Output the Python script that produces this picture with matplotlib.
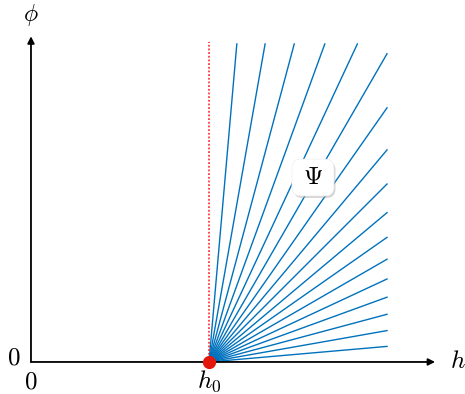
import numpy as np
import matplotlib.pyplot as plt
from matplotlib import transforms
from matplotlib.patches import FancyBboxPatch

plt.rcParams['mathtext.fontset'] = 'cm'
plt.rcParams['font.family'] = 'serif'
plt.rcParams['font.serif'] = ['DejaVu Serif']

# characteristic directions (degrees) leaving h0
angles = [5, 10, 15, 20, 25, 30, 35, 40, 45, 50, 55, 60, 65, 70, 75, 80, 85]
h0 = 1.0
h_max = 2.0
phi_max = 1.787

fig = plt.figure(figsize=(4.65, 3.94), dpi=100)
ax = fig.add_axes([0, 0, 1, 1])
ax.set_xlim(-0.174, 2.438)
ax.set_ylim(-0.180, 2.034)
ax.axis('off')

# axes with arrow heads
ax.annotate('', xy=(2.27, 0), xytext=(0, 0),
            arrowprops=dict(arrowstyle='-|>', color='black', lw=1.3,
                            mutation_scale=10, shrinkA=0, shrinkB=0))
ax.annotate('', xy=(0, 1.83), xytext=(0, 0),
            arrowprops=dict(arrowstyle='-|>', color='black', lw=1.3,
                            mutation_scale=10, shrinkA=0, shrinkB=0))

# fan of lines, cut at the box edge
for a in angles:
    t = np.radians(a)
    s = min((h_max - h0) / np.cos(t), phi_max / np.sin(t))
    ax.plot([h0, h0 + s * np.cos(t)], [0, s * np.sin(t)],
            color='#0072BD', lw=1.0, zorder=2)

ax.plot([h0, h0], [0, 1.80], color='#ff1a1a', ls=(0, (1.2, 1.2)), lw=1.1, zorder=3)
ax.plot([h0], [0], 'o', color='#e3180b', ms=8.5, zorder=5)

ax.text(-0.095, 0.025, '$0$', fontsize=18, ha='center', va='center')
ax.text(0.0, -0.11, '$0$', fontsize=18, ha='center', va='center')
ax.text(h0, -0.11, '$h_0$', fontsize=18, ha='center', va='center')
ax.text(2.40, 0.0, '$h$', fontsize=18, ha='center', va='center')
ax.text(0.0, 1.95, r'$\phi$', fontsize=17, ha='center', va='center')

# label box with a soft shadow
bx, by, bw, bh = 1.466, 0.933, 0.236, 0.207
shadow = transforms.offset_copy(ax.transData, fig=fig, x=1.5, y=-2, units='dots')
ax.add_patch(FancyBboxPatch((bx, by), bw, bh, boxstyle='round,pad=0,rounding_size=0.05',
                            fc='#aaaaaa', ec='none', alpha=0.5, transform=shadow, zorder=6))
ax.add_patch(FancyBboxPatch((bx, by), bw, bh, boxstyle='round,pad=0,rounding_size=0.05',
                            fc='white', ec='#eeeeee', lw=0.5, zorder=7))
ax.text(bx + bw / 2, by + bh / 2, r'$\Psi$', fontsize=18, ha='center', va='center', zorder=8)

fig.savefig('out.png', dpi=100)
